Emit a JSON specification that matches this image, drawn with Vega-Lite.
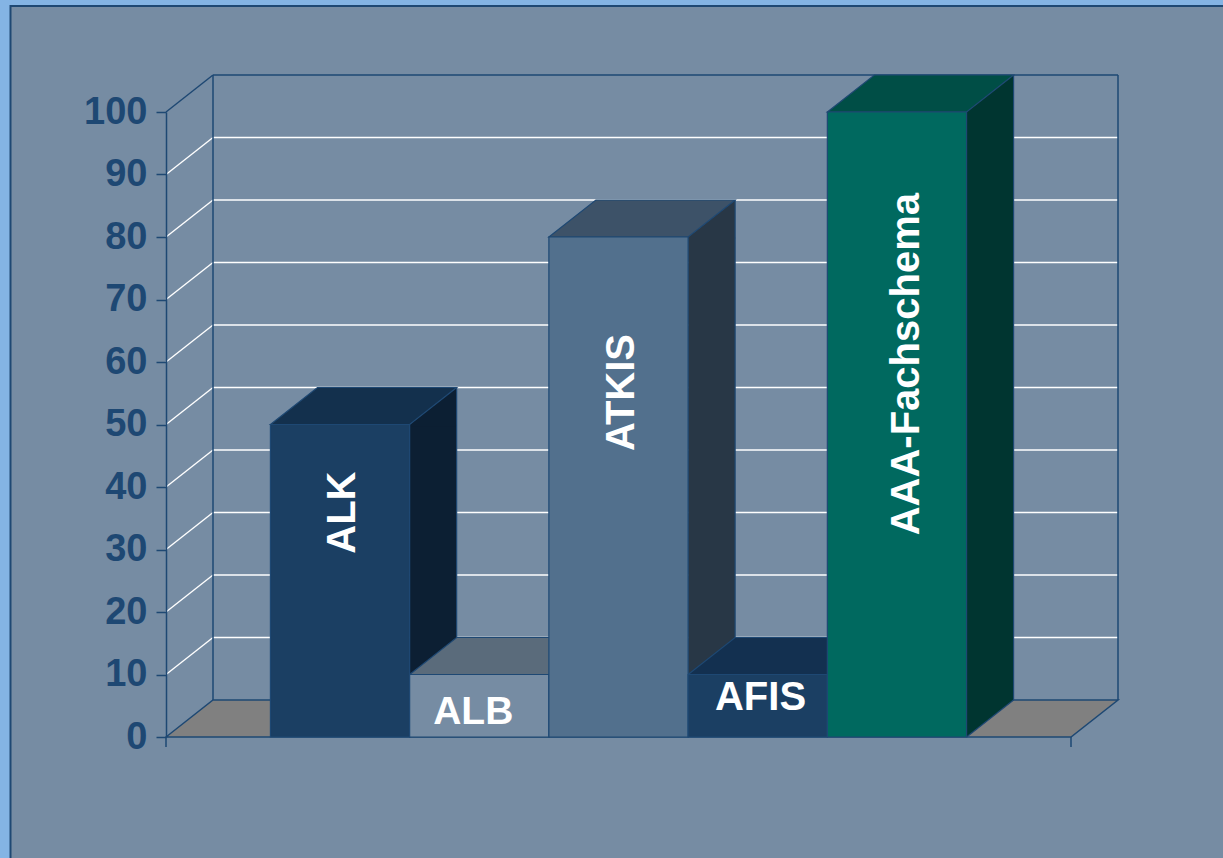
{
  "$schema": "https://vega.github.io/schema/vega-lite/v6.json",
  "width": 905,
  "height": 625,
  "autosize": {"type": "none"},
  "padding": {"left": 166, "top": 112, "right": 152, "bottom": 121},
  "background": "#84b4e4",
  "config": {
    "view": {"stroke": null},
    "font": "Liberation Sans",
    "axisY": {
      "grid": false,
      "domainColor": "#1e4873", "domainWidth": 1.5, "tickColor": "#1e4873", "tickWidth": 1.5, "tickSize": 10,
      "labelFont": "Liberation Sans", "labelFontSize": 38, "labelFontWeight": "bold", "labelColor": "#1e4873",
      "labelPadding": 9, "labelOverlap": false, "labelFlush": false
    }
  },
  "datasets": {
    "systeme": [
      {"system": "ALK", "wert": 50},
      {"system": "ALB", "wert": 10},
      {"system": "ATKIS", "wert": 80},
      {"system": "AFIS", "wert": 10},
      {"system": "AAA-Fachschema", "wert": 100}
    ],
    "gitter": [
      {"v": 10}, {"v": 20}, {"v": 30}, {"v": 40}, {"v": 50},
      {"v": 60}, {"v": 70}, {"v": 80}, {"v": 90}
    ],
    "eins": [{}]
  },
  "resolve": {"scale": {"fill": "independent", "stroke": "independent"}},
  "layer": [
    {
      "data": {"name": "eins"},
      "mark": {"type": "rect", "fill": "#768ca3", "stroke": "#1e4873", "strokeWidth": 2},
      "encoding": {
        "x": {"value": -155.5}, "x2": {"value": 1090},
        "y": {"value": -106}, "y2": {"value": 770}
      }
    },
    {
      "data": {"name": "eins"},
      "mark": {"type": "point", "shape": "M0,0L47,-37L952,-37L905,0Z", "size": 4, "filled": true, "fill": "#808080", "stroke": "#1e4873", "strokeWidth": 1.5, "opacity": 1},
      "encoding": {
        "x": {"value": 0},
        "y": {"datum": 0, "type": "quantitative", "scale": {"domain": [0, 100], "nice": false, "zero": true}, "axis": {"title": null, "zindex": 2, "values": [0, 10, 20, 30, 40, 50, 60, 70, 80, 90, 100]}}
      }
    },
    {
      "data": {"name": "gitter"},
      "mark": {"type": "rule", "color": "#ffffff", "strokeWidth": 1.4, "xOffset": 47, "x2Offset": 47, "yOffset": -37},
      "encoding": {
        "x": {"value": 0}, "x2": {"value": "width"},
        "y": {"field": "v", "type": "quantitative", "axis": {"title": null, "zindex": 2, "values": [0, 10, 20, 30, 40, 50, 60, 70, 80, 90, 100]}}
      }
    },
    {
      "data": {"name": "gitter"},
      "mark": {"type": "rule", "color": "#ffffff", "strokeWidth": 1.4, "x2Offset": 47, "y2Offset": -37},
      "encoding": {
        "x": {"value": 0}, "x2": {"value": 0},
        "y": {"field": "v", "type": "quantitative", "axis": {"title": null, "zindex": 2, "values": [0, 10, 20, 30, 40, 50, 60, 70, 80, 90, 100]}},
        "y2": {"field": "v"}
      }
    },
    {
      "data": {"name": "eins"},
      "mark": {"type": "rule", "color": "#1e4873", "strokeWidth": 1.5, "xOffset": 47, "x2Offset": 47, "yOffset": -37},
      "encoding": {
        "x": {"value": 0}, "x2": {"value": "width"},
        "y": {"datum": 100, "type": "quantitative", "axis": {"title": null, "zindex": 2, "values": [0, 10, 20, 30, 40, 50, 60, 70, 80, 90, 100]}}
      }
    },
    {
      "data": {"name": "eins"},
      "mark": {"type": "rule", "color": "#1e4873", "strokeWidth": 1.5, "x2Offset": 47, "y2Offset": -37},
      "encoding": {
        "x": {"value": 0}, "x2": {"value": 0},
        "y": {"datum": 100, "type": "quantitative", "axis": {"title": null, "zindex": 2, "values": [0, 10, 20, 30, 40, 50, 60, 70, 80, 90, 100]}},
        "y2": {"datum": 100}
      }
    },
    {
      "data": {"name": "eins"},
      "mark": {"type": "rule", "color": "#1e4873", "strokeWidth": 1.5, "xOffset": 47, "yOffset": -37, "y2Offset": -37},
      "encoding": {
        "x": {"value": 0},
        "y": {"datum": 0, "type": "quantitative", "axis": {"title": null, "zindex": 2, "values": [0, 10, 20, 30, 40, 50, 60, 70, 80, 90, 100]}},
        "y2": {"datum": 100}
      }
    },
    {
      "data": {"name": "eins"},
      "mark": {"type": "rule", "color": "#1e4873", "strokeWidth": 1.5, "xOffset": 47, "yOffset": -37, "y2Offset": -37},
      "encoding": {
        "x": {"value": "width"},
        "y": {"datum": 0, "type": "quantitative", "axis": {"title": null, "zindex": 2, "values": [0, 10, 20, 30, 40, 50, 60, 70, 80, 90, 100]}},
        "y2": {"datum": 100}
      }
    },
    {
      "data": {"name": "eins"},
      "mark": {"type": "rule", "color": "#1e4873", "strokeWidth": 1.5, "y2Offset": 10},
      "encoding": {
        "x": {"value": 0},
        "y": {"datum": 0, "type": "quantitative", "axis": {"title": null, "zindex": 2, "values": [0, 10, 20, 30, 40, 50, 60, 70, 80, 90, 100]}},
        "y2": {"datum": 0}
      }
    },
    {
      "data": {"name": "eins"},
      "mark": {"type": "rule", "color": "#1e4873", "strokeWidth": 1.5, "y2Offset": 10},
      "encoding": {
        "x": {"value": "width"},
        "y": {"datum": 0, "type": "quantitative", "axis": {"title": null, "zindex": 2, "values": [0, 10, 20, 30, 40, 50, 60, 70, 80, 90, 100]}},
        "y2": {"datum": 0}
      }
    },
    {
      "data": {"name": "systeme"},
      "mark": {"type": "rule", "strokeWidth": 47, "strokeCap": "butt", "xOffset": 93.115, "y2Offset": -37},
      "encoding": {
        "x": {"field": "system", "type": "nominal", "sort": null, "scale": {"type": "band", "paddingInner": 0, "paddingOuter": 0.75}, "axis": null},
        "y": {"field": "wert", "type": "quantitative", "axis": {"title": null, "zindex": 2, "values": [0, 10, 20, 30, 40, 50, 60, 70, 80, 90, 100]}},
        "y2": {"datum": 0},
        "stroke": {"field": "system", "type": "nominal", "sort": null, "legend": null,
          "scale": {"domain": ["ALK", "ALB", "ATKIS", "AFIS", "AAA-Fachschema"], "range": ["#0c1f33", "#3b4a58", "#283746", "#0c1f33", "#003530"]}}
      }
    },
    {
      "data": {"name": "systeme"},
      "mark": {"type": "point", "shape": "M69.615,0L116.615,-37L116.615,2L69.615,2Z", "size": 4, "filled": true, "strokeWidth": 0, "opacity": 1},
      "encoding": {
        "x": {"field": "system", "type": "nominal", "sort": null, "scale": {"type": "band"}, "axis": null},
        "y": {"field": "wert", "type": "quantitative", "axis": {"title": null, "zindex": 2, "values": [0, 10, 20, 30, 40, 50, 60, 70, 80, 90, 100]}},
        "fill": {"field": "system", "type": "nominal", "sort": null, "legend": null,
          "scale": {"domain": ["ALK", "ALB", "ATKIS", "AFIS", "AAA-Fachschema"], "range": ["#0c1f33", "#3b4a58", "#283746", "#0c1f33", "#003530"]}}
      }
    },
    {
      "data": {"name": "systeme"},
      "mark": {"type": "point", "shape": "M69.615,0L69.615,-39L116.615,-39L116.615,-37Z", "size": 4, "filled": true, "strokeWidth": 0, "opacity": 1},
      "encoding": {
        "x": {"field": "system", "type": "nominal", "sort": null, "scale": {"type": "band"}, "axis": null},
        "y": {"datum": 0, "type": "quantitative", "axis": {"title": null, "zindex": 2, "values": [0, 10, 20, 30, 40, 50, 60, 70, 80, 90, 100]}},
        "fill": {"field": "system", "type": "nominal", "sort": null, "legend": null,
          "scale": {"domain": ["ALK", "ALB", "ATKIS", "AFIS", "AAA-Fachschema"], "range": ["#0c1f33", "#3b4a58", "#283746", "#0c1f33", "#003530"]}}
      }
    },
    {
      "data": {"name": "systeme"},
      "mark": {"type": "rule", "color": "#1e4873", "strokeWidth": 1.2, "xOffset": 116.615, "yOffset": -37, "y2Offset": -37},
      "encoding": {
        "x": {"field": "system", "type": "nominal", "sort": null, "scale": {"type": "band"}, "axis": null},
        "y": {"field": "wert", "type": "quantitative", "axis": {"title": null, "zindex": 2, "values": [0, 10, 20, 30, 40, 50, 60, 70, 80, 90, 100]}},
        "y2": {"datum": 0}
      }
    },
    {
      "data": {"name": "systeme"},
      "mark": {"type": "point", "shape": "M69.615,0L116.615,-37", "size": 4, "filled": false, "stroke": "#1e4873", "strokeWidth": 1.2, "opacity": 1},
      "encoding": {
        "x": {"field": "system", "type": "nominal", "sort": null, "scale": {"type": "band"}, "axis": null},
        "y": {"datum": 0, "type": "quantitative", "axis": {"title": null, "zindex": 2, "values": [0, 10, 20, 30, 40, 50, 60, 70, 80, 90, 100]}}
      }
    },
    {
      "data": {"name": "systeme"},
      "mark": {"type": "point", "shape": "M-69.615,0L-22.615,-37L116.615,-37L69.615,0Z", "size": 4, "filled": true, "stroke": "#1e4873", "strokeWidth": 1.2, "opacity": 1},
      "encoding": {
        "x": {"field": "system", "type": "nominal", "sort": null, "scale": {"type": "band"}, "axis": null},
        "y": {"field": "wert", "type": "quantitative", "axis": {"title": null, "zindex": 2, "values": [0, 10, 20, 30, 40, 50, 60, 70, 80, 90, 100]}},
        "fill": {"field": "system", "type": "nominal", "sort": null, "legend": null,
          "scale": {"domain": ["ALK", "ALB", "ATKIS", "AFIS", "AAA-Fachschema"], "range": ["#13304d", "#5a6b7b", "#3d5268", "#133050", "#004e46"]}}
      }
    },
    {
      "data": {"name": "systeme"},
      "mark": {"type": "bar", "stroke": "#1e4873", "strokeWidth": 1.2},
      "encoding": {
        "x": {"field": "system", "type": "nominal", "sort": null, "scale": {"type": "band"}, "axis": null},
        "y": {"field": "wert", "type": "quantitative", "axis": {"title": null, "zindex": 2, "values": [0, 10, 20, 30, 40, 50, 60, 70, 80, 90, 100]}},
        "fill": {"field": "system", "type": "nominal", "sort": null, "legend": null,
          "scale": {"domain": ["ALK", "ALB", "ATKIS", "AFIS", "AAA-Fachschema"], "range": ["#1b3f63", "#768ca3", "#52708d", "#1b3f63", "#00695f"]}}
      }
    },
    {
      "data": {"name": "systeme"},
      "transform": [{"filter": "datum.system === 'ALK'"}],
      "mark": {"type": "text", "angle": 270, "align": "right", "baseline": "middle", "dx": -47, "dy": 2.5, "fontSize": 40, "fontWeight": "bold", "font": "Liberation Sans", "color": "#ffffff"},
      "encoding": {
        "x": {"field": "system", "type": "nominal", "sort": null, "scale": {"type": "band"}, "axis": null},
        "y": {"field": "wert", "type": "quantitative", "axis": {"title": null, "zindex": 2, "values": [0, 10, 20, 30, 40, 50, 60, 70, 80, 90, 100]}},
        "text": {"field": "system"}
      }
    },
    {
      "data": {"name": "systeme"},
      "transform": [{"filter": "datum.system === 'ATKIS'"}],
      "mark": {"type": "text", "angle": 270, "align": "right", "baseline": "middle", "dx": -97, "dy": 3.5, "fontSize": 40, "fontWeight": "bold", "font": "Liberation Sans", "color": "#ffffff"},
      "encoding": {
        "x": {"field": "system", "type": "nominal", "sort": null, "scale": {"type": "band"}, "axis": null},
        "y": {"field": "wert", "type": "quantitative", "axis": {"title": null, "zindex": 2, "values": [0, 10, 20, 30, 40, 50, 60, 70, 80, 90, 100]}},
        "text": {"field": "system"}
      }
    },
    {
      "data": {"name": "systeme"},
      "transform": [{"filter": "datum.system === 'AAA-Fachschema'"}],
      "mark": {"type": "text", "angle": 270, "align": "right", "baseline": "middle", "dx": -81, "dy": 10.5, "fontSize": 40, "fontWeight": "bold", "font": "Liberation Sans", "color": "#ffffff"},
      "encoding": {
        "x": {"field": "system", "type": "nominal", "sort": null, "scale": {"type": "band"}, "axis": null},
        "y": {"field": "wert", "type": "quantitative", "axis": {"title": null, "zindex": 2, "values": [0, 10, 20, 30, 40, 50, 60, 70, 80, 90, 100]}},
        "text": {"field": "system"}
      }
    },
    {
      "data": {"name": "systeme"},
      "transform": [{"filter": "datum.system === 'ALB'"}],
      "mark": {"type": "text", "align": "center", "baseline": "alphabetic", "dx": -6, "dy": 49.8, "fontSize": 39, "fontWeight": "bold", "font": "Liberation Sans", "color": "#ffffff"},
      "encoding": {
        "x": {"field": "system", "type": "nominal", "sort": null, "scale": {"type": "band"}, "axis": null},
        "y": {"field": "wert", "type": "quantitative", "axis": {"title": null, "zindex": 2, "values": [0, 10, 20, 30, 40, 50, 60, 70, 80, 90, 100]}},
        "text": {"field": "system"}
      }
    },
    {
      "data": {"name": "systeme"},
      "transform": [{"filter": "datum.system === 'AFIS'"}],
      "mark": {"type": "text", "align": "center", "baseline": "alphabetic", "dx": 2.8, "dy": 35.5, "fontSize": 40, "fontWeight": "bold", "font": "Liberation Sans", "color": "#ffffff"},
      "encoding": {
        "x": {"field": "system", "type": "nominal", "sort": null, "scale": {"type": "band"}, "axis": null},
        "y": {"field": "wert", "type": "quantitative", "axis": {"title": null, "zindex": 2, "values": [0, 10, 20, 30, 40, 50, 60, 70, 80, 90, 100]}},
        "text": {"field": "system"}
      }
    }
  ]
}
